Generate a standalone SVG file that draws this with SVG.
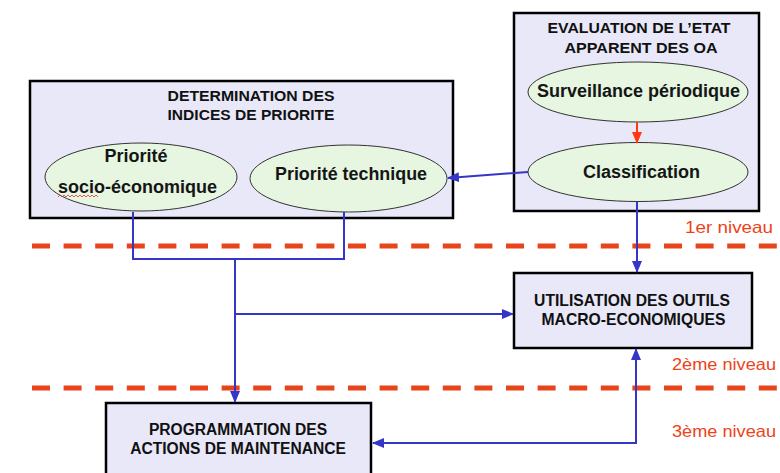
<svg xmlns="http://www.w3.org/2000/svg" width="780" height="473" viewBox="0 0 780 473">
<defs>
<style>
.box{fill:#e8e8f8;stroke:#000;stroke-width:2.5}
.ell{fill:#e6f6e0;stroke:#333;stroke-width:1}
.title{font-family:"Liberation Sans",Arial,sans-serif;font-weight:bold;fill:#111;text-anchor:middle}
.etxt{font-family:"Liberation Sans",Arial,sans-serif;font-size:18px;font-weight:bold;fill:#151515;text-anchor:middle}
.lvl{font-family:"Liberation Sans",Arial,sans-serif;font-size:16.5px;fill:#ee4318}
.conn{fill:none;stroke:#3535c8;stroke-width:2}
.dash{fill:none;stroke:#e8441a;stroke-width:5;stroke-dasharray:18 13.6}
</style>
<marker id="ab" markerUnits="userSpaceOnUse" markerWidth="12" markerHeight="12" viewBox="0 0 12 12" refX="11" refY="6" orient="auto-start-reverse">
<path d="M0,1 L12,6 L0,11 Z" fill="#3535c8"/>
</marker>
<marker id="ar" markerUnits="userSpaceOnUse" markerWidth="12" markerHeight="12" viewBox="0 0 12 12" refX="11" refY="6" orient="auto">
<path d="M0,1 L12,6 L0,11 Z" fill="#ff3a10"/>
</marker>
</defs>
<rect width="780" height="473" fill="#fff"/>

<g id="levels">
<line class="dash" x1="32" y1="246" x2="780" y2="246"/>
<line class="dash" x1="32" y1="388" x2="780" y2="388"/>
<text class="lvl" x="773" y="233" text-anchor="end" textLength="88" lengthAdjust="spacingAndGlyphs">1er niveau</text>
<text class="lvl" x="672" y="370" textLength="104" lengthAdjust="spacingAndGlyphs">2ème niveau</text>
<text class="lvl" x="672" y="437" textLength="104" lengthAdjust="spacingAndGlyphs">3ème niveau</text>
</g>

<g id="determination">
<rect class="box" x="30" y="81" width="423" height="137"/>
<text class="title" x="251" y="101" font-size="14.3" textLength="167" lengthAdjust="spacingAndGlyphs">DETERMINATION DES</text>
<text class="title" x="251" y="120" font-size="14.3" textLength="167" lengthAdjust="spacingAndGlyphs">INDICES DE PRIORITE</text>
</g>
<g id="priorite-socio">
<ellipse class="ell" cx="141" cy="177" rx="96" ry="34"/>
<text class="etxt" x="136" y="162">Priorité</text>
<text class="etxt" x="137.5" y="193" textLength="159" lengthAdjust="spacingAndGlyphs">socio-économique</text>
<path d="M58,197 l2,-2 l2,2 l2,-2 l2,2 l2,-2 l2,2 l2,-2 l2,2 l2,-2 l2,2 l2,-2 l2,2 l2,-2 l2,2 l2,-2 l2,2 l2,-2 l2,2 l2,-2 l2,2" fill="none" stroke="#e03030" stroke-width="0.8"/>
</g>
<g id="priorite-technique">
<ellipse class="ell" cx="348.5" cy="178.5" rx="98.5" ry="33.5"/>
<text class="etxt" x="351" y="180" textLength="152" lengthAdjust="spacingAndGlyphs">Priorité technique</text>
</g>

<g id="evaluation">
<rect class="box" x="514" y="13" width="245" height="198"/>
<text class="title" x="639" y="33" font-size="15.3" textLength="183" lengthAdjust="spacingAndGlyphs">EVALUATION DE L’ETAT</text>
<text class="title" x="641" y="53" font-size="15.3" textLength="153" lengthAdjust="spacingAndGlyphs">APPARENT DES OA</text>
</g>
<g id="surveillance">
<ellipse class="ell" cx="638" cy="92" rx="110" ry="30"/>
<text class="etxt" x="638.5" y="97" textLength="203" lengthAdjust="spacingAndGlyphs">Surveillance périodique</text>
</g>
<g id="classification">
<ellipse class="ell" cx="638" cy="172" rx="110" ry="29.5"/>
<text class="etxt" x="641.5" y="178" textLength="117" lengthAdjust="spacingAndGlyphs">Classification</text>
</g>

<g id="utilisation">
<rect class="box" x="514" y="273" width="238" height="75"/>
<text class="title" x="632" y="306" font-size="15.7">UTILISATION DES OUTILS</text>
<text class="title" x="633.5" y="325" font-size="15.7">MACRO-ECONOMIQUES</text>
</g>

<g id="programmation">
<rect class="box" x="106" y="403" width="265" height="80"/>
<text class="title" x="238" y="435" font-size="15.6">PROGRAMMATION DES</text>
<text class="title" x="238" y="454" font-size="15.6">ACTIONS DE MAINTENANCE</text>
</g>

<g id="connectors">
<line x1="637" y1="122" x2="637" y2="143" stroke="#ff3a10" stroke-width="2" marker-end="url(#ar)"/>
<line class="conn" x1="528" y1="172" x2="448" y2="178" marker-end="url(#ab)"/>
<line class="conn" x1="637" y1="202" x2="637" y2="272" marker-end="url(#ab)"/>
<path class="conn" d="M133,212 V259 H344 V212"/>
<line class="conn" x1="235" y1="259" x2="235" y2="402" marker-end="url(#ab)"/>
<line class="conn" x1="235" y1="314" x2="513" y2="314" marker-end="url(#ab)"/>
<path class="conn" d="M373,443 H636 V349" marker-start="url(#ab)" marker-end="url(#ab)"/>
</g>
</svg>
